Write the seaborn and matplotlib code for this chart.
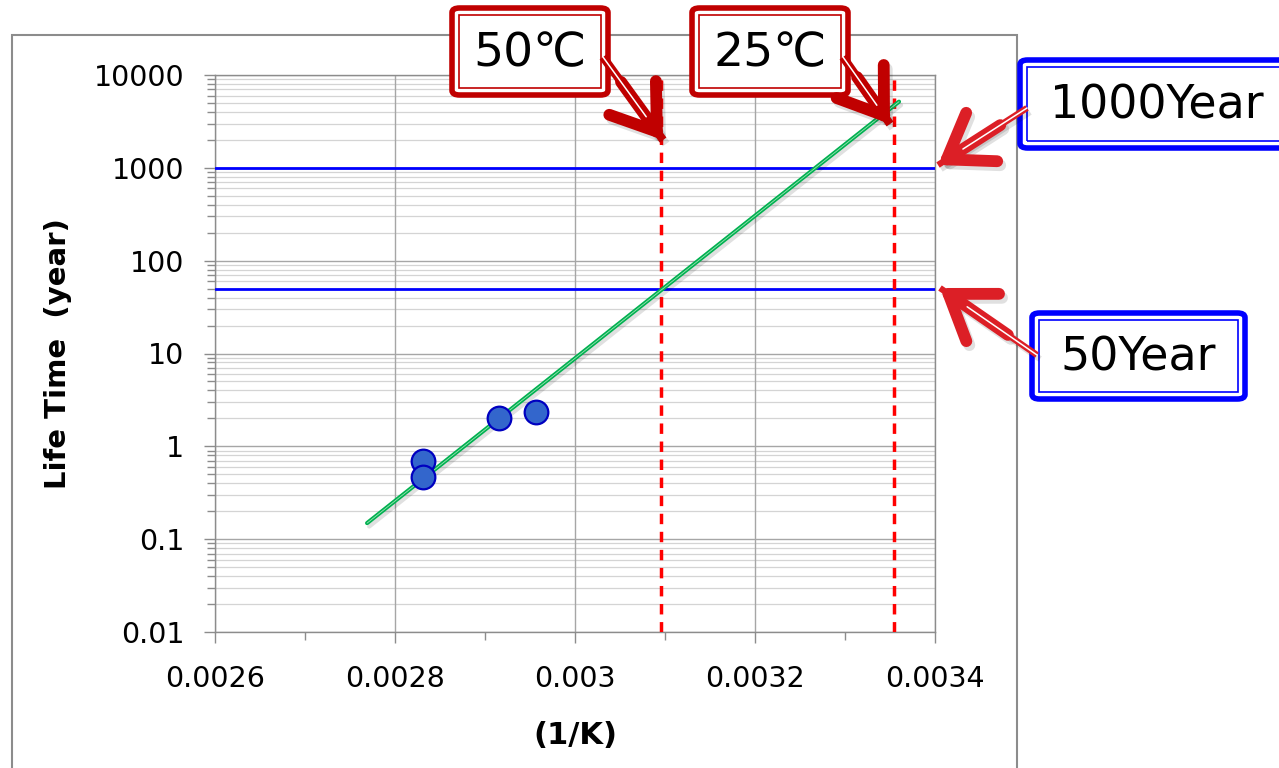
import matplotlib
matplotlib.use("Agg")
import matplotlib.pyplot as plt
import matplotlib.patheffects as pe
from matplotlib.patches import FancyBboxPatch, FancyArrowPatch, Rectangle
from matplotlib.ticker import FixedLocator, NullFormatter
import numpy as np
import pandas as pd
import seaborn as sns

# measured points (1/K, years)
inv_temp = [0.002831, 0.002831, 0.002915, 0.002957]
life_years = [0.69, 0.466, 2.04, 2.34]

# fitted line end points
fit_x = [0.002769, 0.003360]
fit_y = [0.149, 5160]

# reference lines
temp_lines = [0.003095, 0.003354]      # 50C, 25C
year_lines = [1000, 50]

y_ticks = [0.01, 0.1, 1, 10, 100, 1000, 10000]
y_labels = ["0.01", "0.1", "1", "10", "100", "1000", "10000"]
x_ticks = [0.0026, 0.0028, 0.0030, 0.0032, 0.0034]
x_labels = ["0.0026", "0.0028", "0.003", "0.0032", "0.0034"]
x_minor = [0.0027, 0.0029, 0.0031, 0.0033]

W, H = 1279, 768

sns.set_style("white")
plt.rcParams["font.family"] = ["DejaVu Sans"]
plt.rcParams["text.color"] = "black"
plt.rcParams["axes.labelcolor"] = "black"

fig = plt.figure(figsize=(W / 100, H / 100), dpi=100)
ax = fig.add_axes([215 / W, 1 - 632 / H, 720 / W, 557 / H])


def fp(x, y):
    return (x / W, 1 - y / H)


# outer chart frame
fig.patches.append(Rectangle(fp(12, 800), 1005 / W, 765 / H, transform=fig.transFigure,
                             fill=False, edgecolor="#8c8c8c", lw=1.5, zorder=0))

pts = pd.DataFrame({"x": inv_temp, "y": life_years})
fit = pd.DataFrame({"x": fit_x, "y": fit_y})

ax.set_yscale("log")
ax.set_xlim(0.0026, 0.0034)
ax.set_ylim(0.01, 10000)

# grid
minor_y = [m * 10.0 ** e for e in range(-2, 4) for m in range(2, 10)]
for v in minor_y:
    ax.axhline(v, color="#d4d4d4", lw=0.9, zorder=1)
for v in y_ticks:
    ax.axhline(v, color="#a6a6a6", lw=1, zorder=1)
for v in x_ticks:
    ax.axvline(v, color="#a6a6a6", lw=1, zorder=1)

for v in year_lines:
    ax.axhline(v, color="#0000ff", lw=2, zorder=3)
for v in temp_lines:
    ax.axvline(v, color="#ff0000", lw=2.5, ls=(0, (3, 2.2)), zorder=3)

sns.lineplot(data=fit, x="x", y="y", ax=ax, color="#00b050", lw=3, zorder=4,
             path_effects=[pe.SimpleLineShadow(offset=(1.5, -2.5), alpha=0.12), pe.Normal()])
ax.plot(fit_x, fit_y, color="#9be3b4", lw=0.6, zorder=4)
sns.scatterplot(data=pts, x="x", y="y", ax=ax, s=290, color="#3366cc",
                edgecolor="#0000c0", linewidth=1.6, zorder=5)

ax.yaxis.set_major_locator(FixedLocator(y_ticks))
ax.set_yticklabels(y_labels)
ax.yaxis.set_minor_locator(FixedLocator(minor_y))
ax.yaxis.set_minor_formatter(NullFormatter())
ax.xaxis.set_major_locator(FixedLocator(x_ticks))
ax.set_xticklabels(x_labels)
ax.xaxis.set_minor_locator(FixedLocator(x_minor))

ax.tick_params(axis="both", which="major", labelsize=20.5, length=8, width=1,
               color="#8c8c8c", labelcolor="black", direction="out", left=True, bottom=True)
ax.tick_params(axis="both", which="minor", length=6, width=1, color="#8c8c8c",
               direction="out", left=True, bottom=True)
ax.tick_params(axis="y", which="major", pad=14)
ax.tick_params(axis="x", which="major", pad=16)
for s in ax.spines.values():
    s.set_color("#8c8c8c")
    s.set_linewidth(1)

ax.set_xlabel("(1/K)", fontsize=22, fontweight="bold", labelpad=20)
ax.set_ylabel("Life Time  (year)", fontsize=21, fontweight="bold", labelpad=16)


def callout(x0, y0, x1, y1, text, color, tx, ty, size):
    xa, ya = fp(x0, y1)
    fig.patches.append(FancyBboxPatch((xa, ya), (x1 - x0) / W, (y1 - y0) / H,
                                      boxstyle="round,pad=0,rounding_size=0.006",
                                      transform=fig.transFigure, facecolor="white",
                                      edgecolor=color, lw=4, zorder=10))
    xb, yb = fp(x0 + 7, y1 - 7)
    fig.patches.append(Rectangle((xb, yb), (x1 - x0 - 14) / W, (y1 - y0 - 14) / H,
                                 transform=fig.transFigure, fill=False,
                                 edgecolor=color, lw=1.2, zorder=11))
    fig.text(tx / W, 1 - ty / H, text, fontsize=size, ha="center", va="center",
             color="black", zorder=12)


def arrow_parts(x0, y0, x1, y1, color, shaft, z, alpha=1.0, inner=True):
    fig.patches.append(FancyArrowPatch(fp(x0, y0), fp(x1, y1), transform=fig.transFigure,
                                       arrowstyle="-", lw=shaft, color=color, zorder=z,
                                       alpha=alpha, capstyle="butt", shrinkA=0, shrinkB=0))
    if inner:
        t = 0.72
        fig.patches.append(FancyArrowPatch(fp(x0, y0),
                                           fp(x0 + (x1 - x0) * t, y0 + (y1 - y0) * t),
                                           transform=fig.transFigure, arrowstyle="-", lw=1.1,
                                           color="white", zorder=z + 1, shrinkA=0, shrinkB=0))
    fig.patches.append(FancyArrowPatch(fp(x0 + (x1 - x0) * 0.3, y0 + (y1 - y0) * 0.3),
                                       fp(x1, y1), transform=fig.transFigure,
                                       arrowstyle="->,head_length=0.65,head_width=0.45",
                                       mutation_scale=46, lw=8.5, color=color, zorder=z,
                                       alpha=alpha, joinstyle="round", capstyle="round",
                                       shrinkA=0, shrinkB=0))


def arrow(x0, y0, x1, y1, color, shaft):
    # soft drop shadow, then the arrow itself
    arrow_parts(x0 + 3, y0 + 4, x1 + 3, y1 + 4, "#000000", shaft, 12, alpha=0.12, inner=False)
    arrow_parts(x0, y0, x1, y1, color, shaft, 13)


callout(452, 8, 608, 95, "50\u2103", "#c00000", 530, 54, 34)
callout(692, 8, 848, 95, "25\u2103", "#c00000", 770, 54, 34)
callout(1020, 60, 1300, 148, "1000Year", "#0000ff", 1157, 106, 33)
callout(1032, 313, 1245, 399, "50Year", "#0000ff", 1138, 358, 33)

arrow(603, 57, 663, 140, "#c00000", 6.0)
arrow(843, 57, 890, 124, "#c00000", 6.0)
arrow(1027, 108, 938, 165, "#dc1f26", 4.5)
arrow(1037, 355, 940, 288, "#dc1f26", 4.5)

fig.savefig("out.png", dpi=100)
